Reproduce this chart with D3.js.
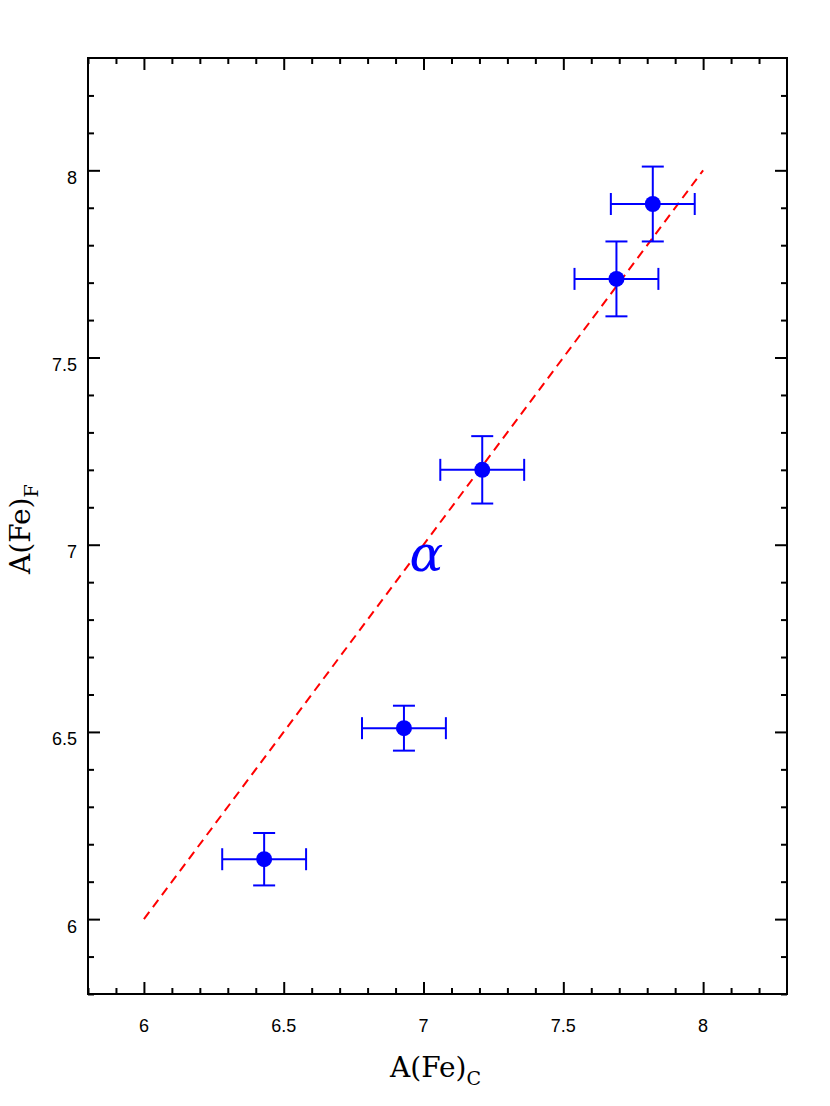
<!DOCTYPE html>
<html><head><meta charset="utf-8">
<script src="https://cdn.jsdelivr.net/npm/d3@7"></script>
<style>body{margin:0;background:#fff}</style>
</head><body>
<svg id="c" width="830" height="1106"></svg>
<script>
const xVals = [6.43, 6.93, 7.21, 7.69, 7.82];
const yVals = [6.16, 6.51, 7.20, 7.71, 7.91];
const xErr  = [0.15, 0.15, 0.15, 0.15, 0.15];
const yErr  = [0.07, 0.06, 0.09, 0.10, 0.10];
const lineX = [6, 8];
const lineY = [6, 8];
const xMajorTicks = [6, 6.5, 7, 7.5, 8];
const yMajorTicks = [6, 6.5, 7, 7.5, 8];
const domainX = [5.8, 8.3];
const domainY = [5.8, 8.3];

const svg = d3.select("#c");
const L = 88, R = 787, T = 58, B = 994;
const x = d3.scaleLinear().domain(domainX).range([L, R]);
const y = d3.scaleLinear().domain(domainY).range([B, T]);

const minor = d3.range(58, 83).map(v => v / 10).filter(v => Math.abs(v*2 - Math.round(v*2)) > 1e-6);

function tickAxis(axisFn, scale, tr, ticks, size) {
  const g = svg.append("g").attr("transform", tr)
    .call(axisFn(scale).tickValues(ticks).tickSize(size).tickSizeOuter(0).tickFormat(""));
  g.select(".domain").remove();
  g.selectAll(".tick line").attr("stroke", "#000").attr("stroke-width", 2);
  return g;
}
tickAxis(d3.axisTop, x, `translate(0,${B})`, xMajorTicks, 12);
tickAxis(d3.axisTop, x, `translate(0,${B})`, minor, 6);
tickAxis(d3.axisBottom, x, `translate(0,${T})`, xMajorTicks, 12);
tickAxis(d3.axisBottom, x, `translate(0,${T})`, minor, 6);
tickAxis(d3.axisRight, y, `translate(${L},0)`, yMajorTicks, 12);
tickAxis(d3.axisRight, y, `translate(${L},0)`, minor, 6);
tickAxis(d3.axisLeft, y, `translate(${R},0)`, yMajorTicks, 12);
tickAxis(d3.axisLeft, y, `translate(${R},0)`, minor, 6);

// tick labels
const tf = "'Liberation Sans', Arial, sans-serif";
svg.append("g").selectAll("text").data(xMajorTicks).join("text")
  .attr("x", d => x(d)).attr("y", 1032).attr("text-anchor", "middle")
  .attr("font-family", tf).attr("font-size", 18)
  .text(d => d3.format("")(d));
svg.append("g").selectAll("text").data(yMajorTicks).join("text")
  .attr("x", 77).attr("y", d => y(d) + 13.5).attr("text-anchor", "end")
  .attr("font-family", tf).attr("font-size", 18)
  .text(d => d3.format("")(d));

// frame
svg.append("rect").attr("x", L).attr("y", T).attr("width", R - L).attr("height", B - T)
  .attr("fill", "none").attr("stroke", "#000").attr("stroke-width", 2);

// dashed line
svg.append("path")
  .attr("d", d3.line().x(d => x(d[0])).y(d => y(d[1]))(lineX.map((v, i) => [v, lineY[i]])))
  .attr("stroke", "#ff0000").attr("stroke-width", 2).attr("fill", "none")
  .attr("stroke-dasharray", "9,6");

// error bars
const blue = "#0000ff";
const pts = xVals.map((v, i) => ({x: v, y: yVals[i], ex: xErr[i], ey: yErr[i]}));
const eg = svg.append("g").attr("stroke", blue).attr("stroke-width", 2);
pts.forEach(p => {
  eg.append("line").attr("x1", x(p.x - p.ex)).attr("x2", x(p.x + p.ex)).attr("y1", y(p.y)).attr("y2", y(p.y));
  eg.append("line").attr("x1", x(p.x)).attr("x2", x(p.x)).attr("y1", y(p.y - p.ey)).attr("y2", y(p.y + p.ey));
  [p.x - p.ex, p.x + p.ex].forEach(v =>
    eg.append("line").attr("x1", x(v)).attr("x2", x(v)).attr("y1", y(p.y) - 11).attr("y2", y(p.y) + 11));
  [p.y - p.ey, p.y + p.ey].forEach(v =>
    eg.append("line").attr("x1", x(p.x) - 11).attr("x2", x(p.x) + 11).attr("y1", y(v)).attr("y2", y(v)));
});
svg.append("g").selectAll("circle").data(pts).join("circle")
  .attr("cx", d => x(d.x)).attr("cy", d => y(d.y)).attr("r", 8).attr("fill", blue);

// alpha
svg.append("text").attr("x", x(7.01)).attr("y", y(6.93)).attr("text-anchor", "middle")
  .attr("font-family", "'DejaVu Serif', serif").attr("font-style", "italic").attr("font-size", 50)
  .attr("fill", blue).text("α");

// axis labels
const lf = "'DejaVu Serif', serif";
const lab = svg.append("text").attr("x", 390).attr("y", 1077).attr("text-anchor", "start")
  .attr("font-family", lf).attr("font-size", 28).attr("fill", "#000");
lab.append("tspan").text("A(Fe)");
lab.append("tspan").attr("font-size", 19).attr("dy", 8).text("C");

const ylab = svg.append("text").attr("transform", `translate(30,574) rotate(-90)`).attr("text-anchor", "start")
  .attr("font-family", lf).attr("font-size", 28).attr("fill", "#000");
ylab.append("tspan").text("A(Fe)");
ylab.append("tspan").attr("font-size", 19).attr("dy", 8).text("F");
</script>
</body></html>
